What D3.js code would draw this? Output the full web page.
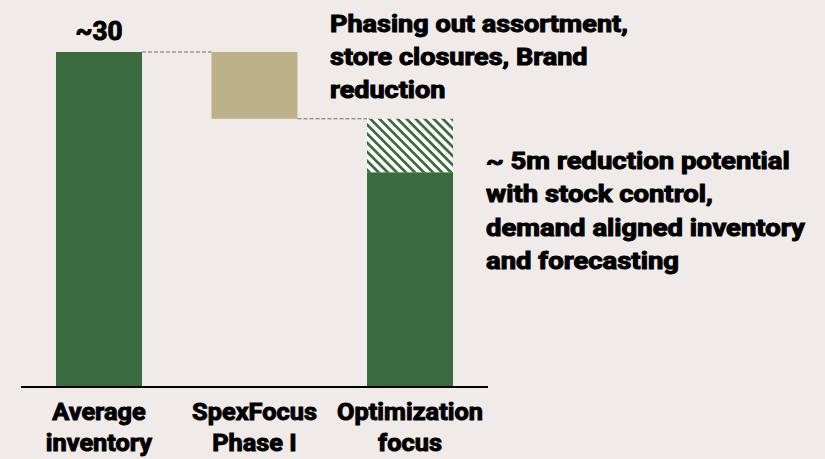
<!DOCTYPE html>
<html lang="en">
<head>
    <meta charset="UTF-8">
    <script src="https://cdn.jsdelivr.net/npm/d3@7"></script>
    <title>Inventory reduction</title>
    <style>
        html, body {
            margin: 0;
            padding: 0;
            background-color: #f0ebe8;
            font-family: Roboto, "Noto Sans", sans-serif;
        }
        svg text {
            font-weight: 700;
            fill: #000;
            stroke: #000;
            stroke-width: 1px;
        }
    </style>
</head>
<body>
    <div id="chart"></div>
    <script>
        // chart values
        const categories = ['Average inventory', 'SpexFocus Phase I', 'Optimization focus'];
        const categoryLines = [['Average', 'inventory'], ['SpexFocus', 'Phase I'], ['Optimization', 'focus']];
        const startValue = 30;
        const phaseOneChange = -6;
        const potential = 4.8;
        const topLabel = '~30';
        const phaseNote = ['Phasing out assortment,', 'store closures, Brand', 'reduction'];
        const potentialNote = ['~ 5m reduction potential', 'with stock control,', 'demand aligned inventory', 'and forecasting'];

        const width = 825, height = 459;
        const green = '#3a6b3e', tan = '#bdb189';

        const svg = d3.select('#chart').append('svg')
            .attr('width', width).attr('height', height);

        const defs = svg.append('defs');
        const pat = defs.append('pattern')
            .attr('id', 'hatch')
            .attr('patternUnits', 'userSpaceOnUse')
            .attr('width', 6.4).attr('height', 6.4)
            .attr('patternTransform', 'rotate(45)');
        pat.append('rect').attr('width', 6.4).attr('height', 6.4).attr('fill', '#fff');
        pat.append('rect').attr('width', 6.4).attr('height', 2.7).attr('fill', green);

        const x = d3.scaleBand()
            .domain(categories)
            .range([21, 488])
            .paddingInner(0.447)
            .paddingOuter(0.225);

        const y = d3.scaleLinear().domain([0, startValue]).range([386, 52]);

        const endValue = startValue + phaseOneChange;

        // waterfall bars
        const bars = [
            {cat: categories[0], y0: 0, y1: startValue, fill: green},
            {cat: categories[1], y0: endValue, y1: startValue, fill: tan},
            {cat: categories[2], y0: 0, y1: endValue - potential, fill: green},
            {cat: categories[2], y0: endValue - potential, y1: endValue, fill: 'url(#hatch)'}
        ];

        svg.selectAll('rect.bar')
            .data(bars)
            .join('rect')
            .attr('class', 'bar')
            .attr('x', d => x(d.cat))
            .attr('width', x.bandwidth())
            .attr('y', d => y(d.y1))
            .attr('height', d => y(d.y0) - y(d.y1))
            .attr('fill', d => d.fill);

        // connectors
        const links = [
            {from: categories[0], to: categories[1], v: startValue},
            {from: categories[1], to: categories[2], v: endValue}
        ];
        svg.selectAll('line.link')
            .data(links)
            .join('line')
            .attr('class', 'link')
            .attr('x1', d => x(d.from) + x.bandwidth())
            .attr('x2', d => x(d.to))
            .attr('y1', d => y(d.v))
            .attr('y2', d => y(d.v))
            .attr('stroke', '#6e6e6e')
            .attr('stroke-width', 1)
            .attr('stroke-dasharray', '4,2');

        // baseline
        svg.append('line')
            .attr('x1', 21).attr('x2', 488)
            .attr('y1', y(0) + 1).attr('y2', y(0) + 1)
            .attr('stroke', '#000')
            .attr('stroke-width', 2);

        // multi-line text block, stretched sideways so the first line fits `fit` px
        function block(lines, x0, y0, lh, size, fit, anchor) {
            const t = svg.append('text')
                .attr('font-size', size)
                .attr('text-anchor', anchor || 'start')
                .attr('x', 0).attr('y', y0);
            t.selectAll('tspan')
                .data(lines)
                .join('tspan')
                .attr('x', 0)
                .attr('dy', (d, i) => i === 0 ? 0 : lh)
                .text(d => d);
            const w = t.select('tspan').node().getComputedTextLength();
            t.attr('transform', `translate(${x0},0) scale(${fit / w},1)`);
            return t;
        }

        // category labels (same stretch for all three)
        const probe = svg.append('text').attr('font-size', 24).text('Optimization');
        const catScale = 146 / probe.node().getComputedTextLength();
        probe.remove();
        categories.forEach((c, i) => {
            const t = svg.append('text')
                .attr('font-size', 24)
                .attr('text-anchor', 'middle')
                .attr('y', 420)
                .attr('transform', `translate(${x(c) + x.bandwidth() / 2},0) scale(${catScale},1)`);
            t.selectAll('tspan')
                .data(categoryLines[i])
                .join('tspan')
                .attr('x', 0)
                .attr('dy', (d, j) => j === 0 ? 0 : 31)
                .text(d => d);
        });

        // value label
        block([topLabel], x(categories[0]) + x.bandwidth() / 2, 40, 0, 25, 47, 'middle');

        // notes
        block(phaseNote, 330, 32, 33, 23, 298);
        block(potentialNote, 486, 169, 33.5, 23, 304);
    </script>
</body>
</html>
